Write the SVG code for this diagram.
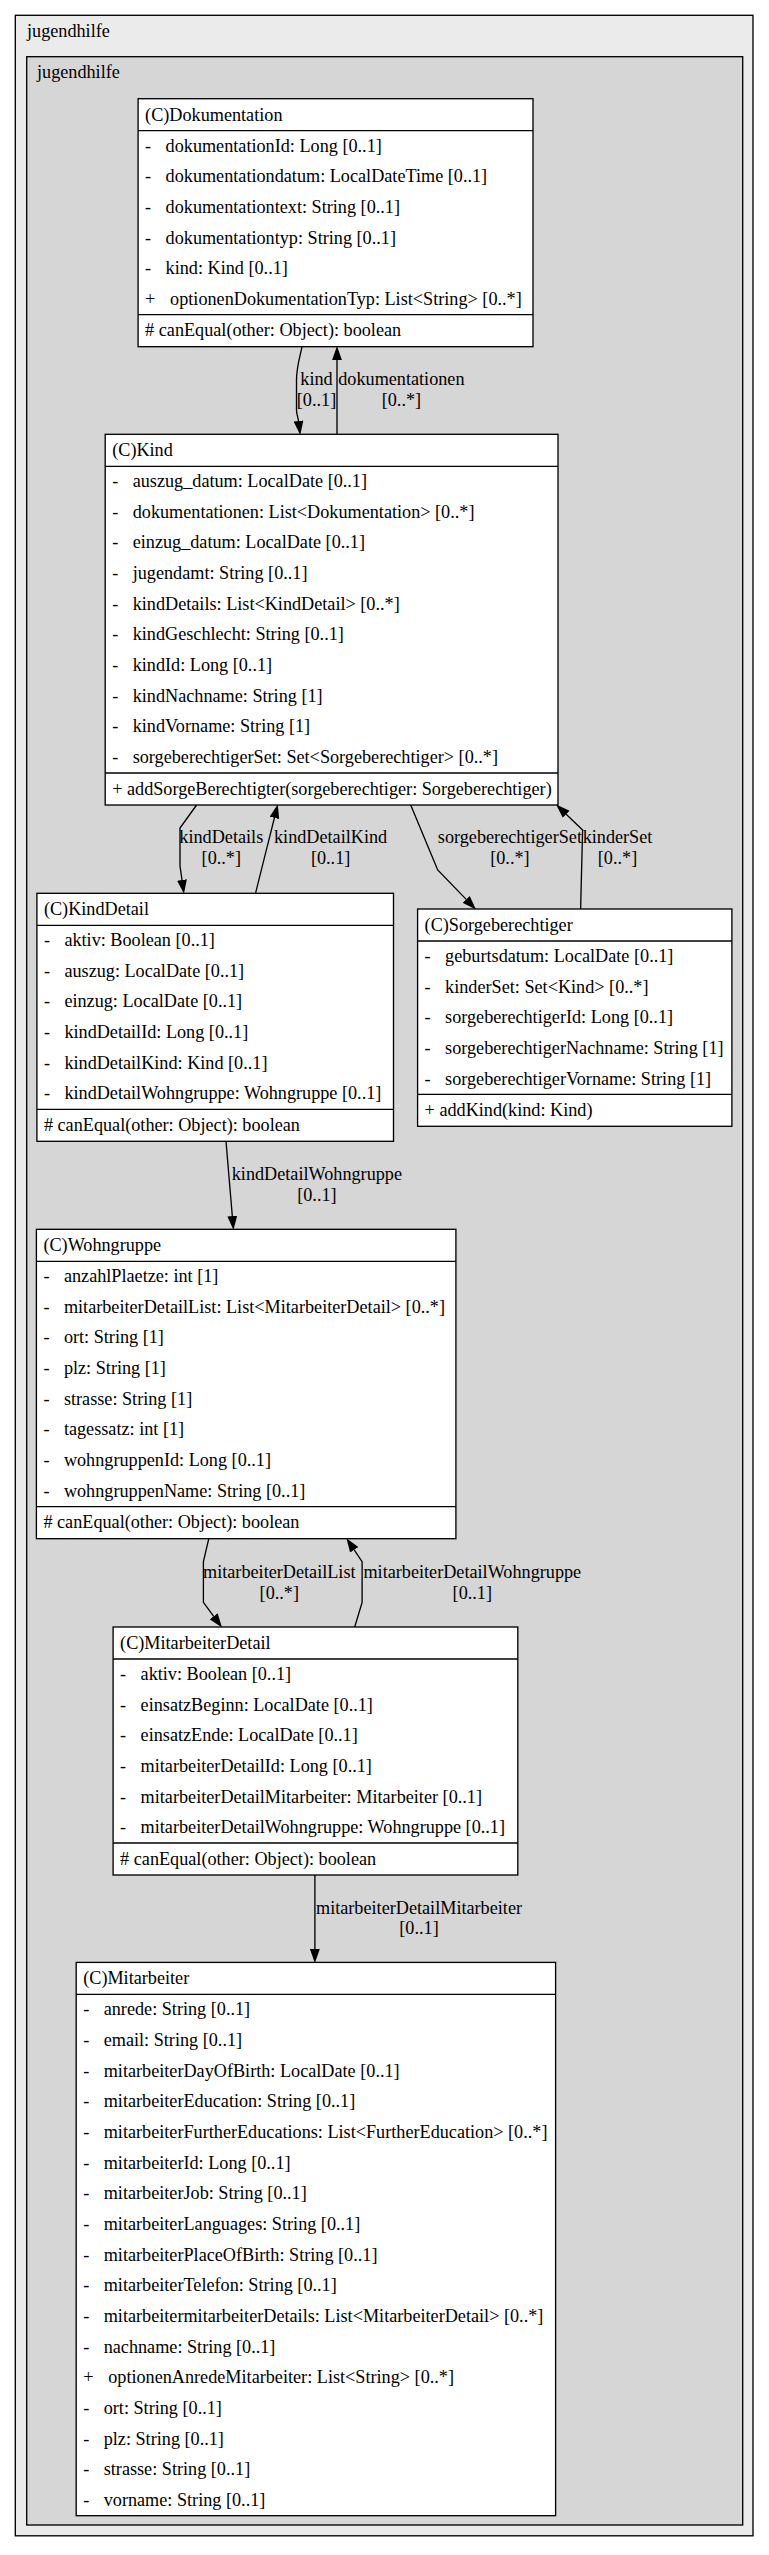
<svg xmlns="http://www.w3.org/2000/svg" width="769" height="2555" viewBox="0 0 769 2555">
<style>
text{font-family:"Liberation Serif","Times New Roman",serif;font-size:18.2px;fill:#000}
.lbl{text-anchor:middle}
.box{fill:#fff;stroke:#000;stroke-width:1.33}
.sep{stroke:#000;stroke-width:1.33}
.edge{fill:none;stroke:#000;stroke-width:1.33}
</style>
<defs>
<marker id="arr" markerUnits="userSpaceOnUse" markerWidth="14" markerHeight="10" viewBox="0 0 13.3 9.34" refX="0" refY="4.67" orient="auto">
<path d="M0,0 L13.3,4.67 L0,9.34 z" fill="#000"/>
</marker>
</defs>
<g id="cluster-outer">
<rect x="15.3" y="15.3" width="737.7" height="2520.5" fill="#ebebeb" stroke="#000" stroke-width="1.33"/>
<text x="27" y="36.7">jugendhilfe</text>
</g>
<g id="cluster-inner">
<rect x="26.7" y="56.7" width="716" height="2468.3" fill="#d6d6d6" stroke="#000" stroke-width="1.33"/>
<text x="37" y="77.7">jugendhilfe</text>
</g>

<g id="connectors">
<path class="edge" d="M302.1,346.7 C299,360 296.5,368 296.5,380 L296.5,410 C296.5,414 298,417 298.5,421" marker-end="url(#arr)"/>
<path class="edge" d="M337,434.3 L337,360" marker-end="url(#arr)"/>
<path class="edge" d="M196.6,805 L180,828 L180,866 L182,880" marker-end="url(#arr)"/>
<path class="edge" d="M255.5,893.3 L274.4,817.9" marker-end="url(#arr)"/>
<path class="edge" d="M410.7,805 L437.7,870 L466.2,899.4" marker-end="url(#arr)"/>
<path class="edge" d="M580.6,909 L582.6,830 L566.2,814.2" marker-end="url(#arr)"/>
<path class="edge" d="M226,1141.3 L232.3,1216" marker-end="url(#arr)"/>
<path class="edge" d="M208.8,1538.7 L203.4,1561.6 L203.4,1602.4 L213.7,1616.3" marker-end="url(#arr)"/>
<path class="edge" d="M354.7,1627 L362.1,1602.4 L362.1,1561.6 L354.2,1549.8" marker-end="url(#arr)"/>
<path class="edge" d="M314.9,1875 L314.9,1949.1" marker-end="url(#arr)"/>
<text class="lbl" x="316.5" y="385">kind</text>
<text class="lbl" x="316.5" y="406">[0..1]</text>
<text class="lbl" x="401.4" y="385">dokumentationen</text>
<text class="lbl" x="401.4" y="406">[0..*]</text>
<text class="lbl" x="221.3" y="843">kindDetails</text>
<text class="lbl" x="221.3" y="864">[0..*]</text>
<text class="lbl" x="330.6" y="843">kindDetailKind</text>
<text class="lbl" x="330.6" y="864">[0..1]</text>
<text class="lbl" x="509.9" y="843">sorgeberechtigerSet</text>
<text class="lbl" x="509.9" y="864">[0..*]</text>
<text class="lbl" x="617.5" y="843">kinderSet</text>
<text class="lbl" x="617.5" y="864">[0..*]</text>
<text class="lbl" x="316.9" y="1180">kindDetailWohngruppe</text>
<text class="lbl" x="316.9" y="1200.5">[0..1]</text>
<text class="lbl" x="279.3" y="1578">mitarbeiterDetailList</text>
<text class="lbl" x="279.3" y="1598.5">[0..*]</text>
<text class="lbl" x="472.3" y="1578">mitarbeiterDetailWohngruppe</text>
<text class="lbl" x="472.3" y="1598.5">[0..1]</text>
<text class="lbl" x="419" y="1913.5">mitarbeiterDetailMitarbeiter</text>
<text class="lbl" x="419" y="1934">[0..1]</text>
</g>

<g id="node-Dokumentation">
<rect class="box" x="138.1" y="98.7" width="394.9" height="248"/>
<line class="sep" x1="138.1" y1="130.7" x2="533" y2="130.7"/>
<line class="sep" x1="138.1" y1="314.7" x2="533" y2="314.7"/>
<text x="145.1" y="120.7">(C)Dokumentation</text>
<text x="145.1" y="151.5">-<tspan x="165.6">dokumentationId: Long [0..1]</tspan></text>
<text x="145.1" y="182.2">-<tspan x="165.6">dokumentationdatum: LocalDateTime [0..1]</tspan></text>
<text x="145.1" y="212.8">-<tspan x="165.6">dokumentationtext: String [0..1]</tspan></text>
<text x="145.1" y="243.5">-<tspan x="165.6">dokumentationtyp: String [0..1]</tspan></text>
<text x="145.1" y="274.2">-<tspan x="165.6">kind: Kind [0..1]</tspan></text>
<text x="145.1" y="304.8">+<tspan x="170.1">optionenDokumentationTyp: List&lt;String&gt; [0..*]</tspan></text>
<text x="145.1" y="336.2"># canEqual(other: Object): boolean</text>
</g>

<g id="node-Kind">
<rect class="box" x="105.2" y="434.3" width="452.8" height="370.7"/>
<line class="sep" x1="105.2" y1="466.3" x2="558" y2="466.3"/>
<line class="sep" x1="105.2" y1="773" x2="558" y2="773"/>
<text x="112.2" y="456.3">(C)Kind</text>
<text x="112.2" y="487.1">-<tspan x="132.7">auszug_datum: LocalDate [0..1]</tspan></text>
<text x="112.2" y="517.8">-<tspan x="132.7">dokumentationen: List&lt;Dokumentation&gt; [0..*]</tspan></text>
<text x="112.2" y="548.4">-<tspan x="132.7">einzug_datum: LocalDate [0..1]</tspan></text>
<text x="112.2" y="579.1">-<tspan x="132.7">jugendamt: String [0..1]</tspan></text>
<text x="112.2" y="609.8">-<tspan x="132.7">kindDetails: List&lt;KindDetail&gt; [0..*]</tspan></text>
<text x="112.2" y="640.4">-<tspan x="132.7">kindGeschlecht: String [0..1]</tspan></text>
<text x="112.2" y="671.1">-<tspan x="132.7">kindId: Long [0..1]</tspan></text>
<text x="112.2" y="701.8">-<tspan x="132.7">kindNachname: String [1]</tspan></text>
<text x="112.2" y="732.4">-<tspan x="132.7">kindVorname: String [1]</tspan></text>
<text x="112.2" y="763.1">-<tspan x="132.7">sorgeberechtigerSet: Set&lt;Sorgeberechtiger&gt; [0..*]</tspan></text>
<text x="112.2" y="794.5">+ addSorgeBerechtigter(sorgeberechtiger: Sorgeberechtiger)</text>
</g>

<g id="node-KindDetail">
<rect class="box" x="36.9" y="893.3" width="356.6" height="248"/>
<line class="sep" x1="36.9" y1="925.3" x2="393.5" y2="925.3"/>
<line class="sep" x1="36.9" y1="1109.3" x2="393.5" y2="1109.3"/>
<text x="43.9" y="915.3">(C)KindDetail</text>
<text x="43.9" y="946.1">-<tspan x="64.4">aktiv: Boolean [0..1]</tspan></text>
<text x="43.9" y="976.8">-<tspan x="64.4">auszug: LocalDate [0..1]</tspan></text>
<text x="43.9" y="1007.4">-<tspan x="64.4">einzug: LocalDate [0..1]</tspan></text>
<text x="43.9" y="1038.1">-<tspan x="64.4">kindDetailId: Long [0..1]</tspan></text>
<text x="43.9" y="1068.8">-<tspan x="64.4">kindDetailKind: Kind [0..1]</tspan></text>
<text x="43.9" y="1099.4">-<tspan x="64.4">kindDetailWohngruppe: Wohngruppe [0..1]</tspan></text>
<text x="43.9" y="1130.8"># canEqual(other: Object): boolean</text>
</g>

<g id="node-Sorgeberechtiger">
<rect class="box" x="417.6" y="909" width="314.3" height="217.3"/>
<line class="sep" x1="417.6" y1="941" x2="731.9" y2="941"/>
<line class="sep" x1="417.6" y1="1094.3" x2="731.9" y2="1094.3"/>
<text x="424.6" y="931">(C)Sorgeberechtiger</text>
<text x="424.6" y="961.8">-<tspan x="445.1">geburtsdatum: LocalDate [0..1]</tspan></text>
<text x="424.6" y="992.5">-<tspan x="445.1">kinderSet: Set&lt;Kind&gt; [0..*]</tspan></text>
<text x="424.6" y="1023.1">-<tspan x="445.1">sorgeberechtigerId: Long [0..1]</tspan></text>
<text x="424.6" y="1053.8">-<tspan x="445.1">sorgeberechtigerNachname: String [1]</tspan></text>
<text x="424.6" y="1084.5">-<tspan x="445.1">sorgeberechtigerVorname: String [1]</tspan></text>
<text x="424.6" y="1115.8">+ addKind(kind: Kind)</text>
</g>

<g id="node-Wohngruppe">
<rect class="box" x="36.4" y="1229.3" width="419.5" height="309.4"/>
<line class="sep" x1="36.4" y1="1261.3" x2="455.9" y2="1261.3"/>
<line class="sep" x1="36.4" y1="1506.7" x2="455.9" y2="1506.7"/>
<text x="43.4" y="1251.3">(C)Wohngruppe</text>
<text x="43.4" y="1282.1">-<tspan x="63.9">anzahlPlaetze: int [1]</tspan></text>
<text x="43.4" y="1312.8">-<tspan x="63.9">mitarbeiterDetailList: List&lt;MitarbeiterDetail&gt; [0..*]</tspan></text>
<text x="43.4" y="1343.4">-<tspan x="63.9">ort: String [1]</tspan></text>
<text x="43.4" y="1374.1">-<tspan x="63.9">plz: String [1]</tspan></text>
<text x="43.4" y="1404.8">-<tspan x="63.9">strasse: String [1]</tspan></text>
<text x="43.4" y="1435.4">-<tspan x="63.9">tagessatz: int [1]</tspan></text>
<text x="43.4" y="1466.1">-<tspan x="63.9">wohngruppenId: Long [0..1]</tspan></text>
<text x="43.4" y="1496.8">-<tspan x="63.9">wohngruppenName: String [0..1]</tspan></text>
<text x="43.4" y="1528.2"># canEqual(other: Object): boolean</text>
</g>

<g id="node-MitarbeiterDetail">
<rect class="box" x="113.1" y="1627" width="404.7" height="248"/>
<line class="sep" x1="113.1" y1="1659" x2="517.8" y2="1659"/>
<line class="sep" x1="113.1" y1="1843" x2="517.8" y2="1843"/>
<text x="120.1" y="1649">(C)MitarbeiterDetail</text>
<text x="120.1" y="1679.8">-<tspan x="140.6">aktiv: Boolean [0..1]</tspan></text>
<text x="120.1" y="1710.5">-<tspan x="140.6">einsatzBeginn: LocalDate [0..1]</tspan></text>
<text x="120.1" y="1741.1">-<tspan x="140.6">einsatzEnde: LocalDate [0..1]</tspan></text>
<text x="120.1" y="1771.8">-<tspan x="140.6">mitarbeiterDetailId: Long [0..1]</tspan></text>
<text x="120.1" y="1802.5">-<tspan x="140.6">mitarbeiterDetailMitarbeiter: Mitarbeiter [0..1]</tspan></text>
<text x="120.1" y="1833.1">-<tspan x="140.6">mitarbeiterDetailWohngruppe: Wohngruppe [0..1]</tspan></text>
<text x="120.1" y="1864.5"># canEqual(other: Object): boolean</text>
</g>

<g id="node-Mitarbeiter">
<rect class="box" x="76.2" y="1962.4" width="479.4" height="553.3"/>
<line class="sep" x1="76.2" y1="1994.4" x2="555.6" y2="1994.4"/>
<text x="83.2" y="1984.4">(C)Mitarbeiter</text>
<text x="83.2" y="2015.2">-<tspan x="103.7">anrede: String [0..1]</tspan></text>
<text x="83.2" y="2045.9">-<tspan x="103.7">email: String [0..1]</tspan></text>
<text x="83.2" y="2076.5">-<tspan x="103.7">mitarbeiterDayOfBirth: LocalDate [0..1]</tspan></text>
<text x="83.2" y="2107.2">-<tspan x="103.7">mitarbeiterEducation: String [0..1]</tspan></text>
<text x="83.2" y="2137.9">-<tspan x="103.7">mitarbeiterFurtherEducations: List&lt;FurtherEducation&gt; [0..*]</tspan></text>
<text x="83.2" y="2168.5">-<tspan x="103.7">mitarbeiterId: Long [0..1]</tspan></text>
<text x="83.2" y="2199.2">-<tspan x="103.7">mitarbeiterJob: String [0..1]</tspan></text>
<text x="83.2" y="2229.9">-<tspan x="103.7">mitarbeiterLanguages: String [0..1]</tspan></text>
<text x="83.2" y="2260.5">-<tspan x="103.7">mitarbeiterPlaceOfBirth: String [0..1]</tspan></text>
<text x="83.2" y="2291.2">-<tspan x="103.7">mitarbeiterTelefon: String [0..1]</tspan></text>
<text x="83.2" y="2321.9">-<tspan x="103.7">mitarbeitermitarbeiterDetails: List&lt;MitarbeiterDetail&gt; [0..*]</tspan></text>
<text x="83.2" y="2352.5">-<tspan x="103.7">nachname: String [0..1]</tspan></text>
<text x="83.2" y="2383.2">+<tspan x="108.2">optionenAnredeMitarbeiter: List&lt;String&gt; [0..*]</tspan></text>
<text x="83.2" y="2413.9">-<tspan x="103.7">ort: String [0..1]</tspan></text>
<text x="83.2" y="2444.5">-<tspan x="103.7">plz: String [0..1]</tspan></text>
<text x="83.2" y="2475.2">-<tspan x="103.7">strasse: String [0..1]</tspan></text>
<text x="83.2" y="2505.9">-<tspan x="103.7">vorname: String [0..1]</tspan></text>
</g>
</svg>
